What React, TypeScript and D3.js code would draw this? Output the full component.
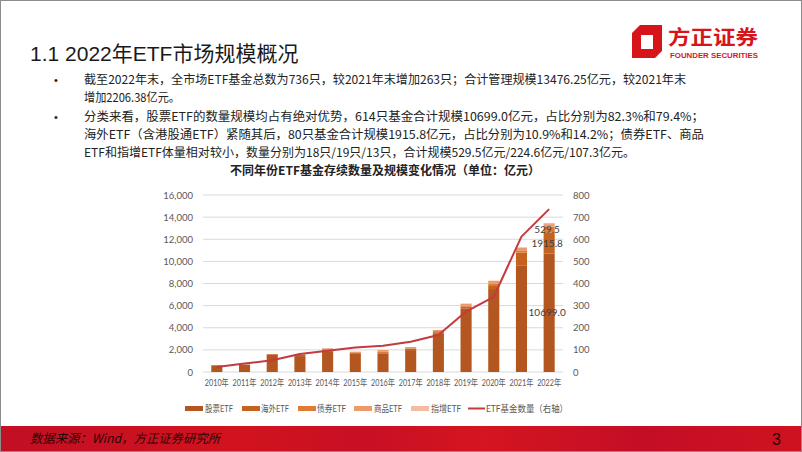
import React from "react";
import * as d3 from "d3";

const years = ["2010年","2011年","2012年","2013年","2014年","2015年","2016年","2017年","2018年","2019年","2020年","2021年","2022年"];
const stockEtf = [600, 640, 1560, 1440, 1880, 1640, 1680, 1980, 3450, 5750, 7500, 9600, 10699.0];
const overseasEtf = [20, 40, 60, 100, 150, 120, 110, 120, 150, 150, 350, 1200, 1915.8];
const bondEtf = [0, 0, 0, 30, 50, 30, 30, 50, 100, 80, 150, 200, 529.5];
const commodityEtf = [0, 0, 0, 30, 60, 50, 170, 110, 100, 200, 250, 250, 224.6];
const indexEnhEtf = [0, 0, 0, 0, 0, 0, 0, 0, 0, 0, 0, 20, 107.3];
const etfCount = [23, 38, 53, 81, 96, 111, 119, 137, 167, 273, 340, 612, 736];
const seriesNames = ["股票ETF", "海外ETF", "债券ETF", "商品ETF", "指增ETF"];
const lineName = "ETF基金数量（右轴）";
const leftTicks = [0, 2000, 4000, 6000, 8000, 10000, 12000, 14000, 16000];
const rightTicks = [0, 100, 200, 300, 400, 500, 600, 700, 800];
const labelled2022 = [10699.0, 1915.8, 529.5];

const colors = ["#B3561F", "#C4621F", "#E07B35", "#EC9A6C", "#F3BBA2"];
const lineColor = "#C23B3F";

const bulletLines = [
  { t: "截至2022年末，全市场ETF基金总数为736只，较2021年末增加263只；合计管理规模13476.25亿元，较2021年末", w: 602, y: 84, bullet: true },
  { t: "增加2206.38亿元。", w: 96, y: 102, bullet: false },
  { t: "分类来看，股票ETF的数量规模均占有绝对优势，614只基金合计规模10699.0亿元，占比分别为82.3%和79.4%；", w: 620, y: 121, bullet: true },
  { t: "海外ETF（含港股通ETF）紧随其后，80只基金合计规模1915.8亿元，占比分别为10.9%和14.2%；债券ETF、商品", w: 620, y: 139, bullet: false },
  { t: "ETF和指增ETF体量相对较小，数量分别为18只/19只/13只，合计规模529.5亿元/224.6亿元/107.3亿元。", w: 551, y: 157, bullet: false },
];

export default function App() {
  const left = 203, right = 563, top = 195, bottom = 372;
  const x = d3.scaleBand<string>().domain(years).range([left, right]).paddingInner(0.6).paddingOuter(0.3);
  const yL = d3.scaleLinear().domain([0, 16000]).range([bottom, top]);
  const yR = d3.scaleLinear().domain([0, 800]).range([bottom, top]);

  const table = years.map((y, i) => ({
    year: y,
    s0: stockEtf[i], s1: overseasEtf[i], s2: bondEtf[i], s3: commodityEtf[i], s4: indexEnhEtf[i],
  }));
  const stacked = d3.stack<any>().keys(["s0", "s1", "s2", "s3", "s4"])(table);
  const cx = (y: string) => (x(y) as number) + x.bandwidth() / 2;
  const linePath = d3.line<number>().x((_, i) => cx(years[i])).y((d) => yR(d))(etfCount) as string;

  const sans = "'Liberation Sans', 'Noto Sans CJK SC', sans-serif";
  const cjk = "'Noto Sans CJK SC', 'Liberation Sans', sans-serif";
  const axisFont = "Lato, 'Noto Sans CJK SC', sans-serif";

  const last = years.length - 1;
  const labelYs = [0, 1, 2].map((k) => {
    const seg = stacked[k][last];
    return yL((seg[0] + seg[1]) / 2);
  });

  const legendItems = [
    { x: 185, tx: 205, w: 28 },
    { x: 242, tx: 261, w: 28 },
    { x: 298, tx: 317, w: 29 },
    { x: 354, tx: 374, w: 28 },
    { x: 411, tx: 431, w: 30 },
  ];

  return (
    <svg width={802} height={452} style={{ position: "absolute", left: 0, top: 0, background: "#fff" }}>
      <defs>
        <linearGradient id="footer" x1="0" x2="1" y1="0" y2="0">
          <stop offset="0" stopColor="#C20F24" />
          <stop offset="0.3" stopColor="#D2131F" />
          <stop offset="0.45" stopColor="#C80F24" />
          <stop offset="0.6" stopColor="#D51520" />
          <stop offset="0.8" stopColor="#C40E26" />
          <stop offset="1" stopColor="#D0121F" />
        </linearGradient>
      </defs>
      <rect x={0} y={0} width={802} height={452} fill="#fff" />
      <rect x={0.5} y={0.5} width={801} height={451} fill="none" stroke="#8c8c8c" />

      {/* Header */}
      <text x={30} y={61} fontFamily={sans} fontSize={21} fill="#1a1a1a">1.1 2022年ETF市场规模概况</text>

      {/* Logo */}
      <path d="M640,25 L662,25 L662,51 L655,58 L632,58 L632,33 Z" fill="#D7141A" />
      <path d="M641,35 L653,35 L653,49 L641,49 Z" fill="#fff" />
      <text x={668} y={45} fontFamily={cjk} fontWeight={700} fontSize={20} fill="#D7141A" textLength={90} lengthAdjust="spacingAndGlyphs">方正证券</text>
      <text x={670} y={58} fontFamily={sans} fontWeight={700} fontSize={7} fill="#D7141A" textLength={88} lengthAdjust="spacingAndGlyphs">FOUNDER SECURITIES</text>

      {/* Bullets */}
      {bulletLines.map((b, i) => (
        <g key={i}>
          {b.bullet && <text x={54} y={b.y} fontFamily={sans} fontSize={11} fill="#222">•</text>}
          <text x={84} y={b.y} fontFamily={cjk} fontSize={12} fill="#222" textLength={b.w} lengthAdjust="spacingAndGlyphs">{b.t}</text>
        </g>
      ))}

      {/* Chart title */}
      <text x={385} y={175} textAnchor="middle" fontFamily={cjk} fontWeight={700} fontSize={12} fill="#222" textLength={310} lengthAdjust="spacingAndGlyphs">不同年份ETF基金存续数量及规模变化情况（单位：亿元）</text>

      {/* Gridlines */}
      {leftTicks.map((t) => (
        <line key={t} x1={left} x2={right} y1={yL(t)} y2={yL(t)} stroke="#D9D9D9" strokeWidth={1} />
      ))}
      {leftTicks.map((t) => (
        <text key={"l" + t} x={193} y={yL(t) + 3.5} textAnchor="end" fontFamily={axisFont} fontSize={9.5} fill="#595959">{d3.format(",")(t)}</text>
      ))}
      {rightTicks.map((t) => (
        <text key={"r" + t} x={573} y={yR(t) + 3.5} textAnchor="start" fontFamily={axisFont} fontSize={9.5} fill="#595959">{t}</text>
      ))}

      {/* Bars */}
      {stacked.map((layer, k) => (
        <g key={k} fill={colors[k]}>
          {layer.map((d, i) => (
            <rect key={i} x={x(years[i]) as number} width={x.bandwidth()} y={yL(d[1])} height={Math.max(0, yL(d[0]) - yL(d[1]))} />
          ))}
        </g>
      ))}

      {/* Line */}
      <path d={linePath} fill="none" stroke={lineColor} strokeWidth={2} strokeLinejoin="round" />

      {/* Data labels */}
      {labelled2022.map((v, k) => (
        <text key={k} x={cx(years[last]) - 2} y={labelYs[k] + 3.5} textAnchor="middle" fontFamily={axisFont} fontSize={10} fill="#404040">{k === 0 ? v.toFixed(1) : String(v)}</text>
      ))}

      {/* X labels */}
      {years.map((y) => (
        <text key={y} x={cx(y)} y={386} textAnchor="middle" fontFamily={axisFont} fontSize={9} fill="#595959" textLength={24} lengthAdjust="spacingAndGlyphs">{y}</text>
      ))}

      {/* Legend */}
      {legendItems.map((it, k) => (
        <g key={k}>
          <rect x={it.x} y={406} width={18} height={5} fill={colors[k]} />
          <text x={it.tx} y={411.5} fontFamily={axisFont} fontSize={9.5} fill="#595959" textLength={it.w} lengthAdjust="spacingAndGlyphs">{seriesNames[k]}</text>
        </g>
      ))}
      <line x1={468} x2={485} y1={408.5} y2={408.5} stroke={lineColor} strokeWidth={2} />
      <text x={486} y={411.5} fontFamily={axisFont} fontSize={9.5} fill="#595959" textLength={82} lengthAdjust="spacingAndGlyphs">{lineName}</text>

      {/* Footer */}
      <rect x={1} y={426} width={800} height={25} fill="url(#footer)" />
      <text x={30} y={443} fontFamily={cjk} fontStyle="italic" fontSize={12.5} fill="#2a0606" textLength={190} lengthAdjust="spacingAndGlyphs">数据来源：Wind，方正证券研究所</text>
      <text x={781} y={445} textAnchor="end" fontFamily={sans} fontSize={16} fill="#2a0606">3</text>
    </svg>
  );
}
